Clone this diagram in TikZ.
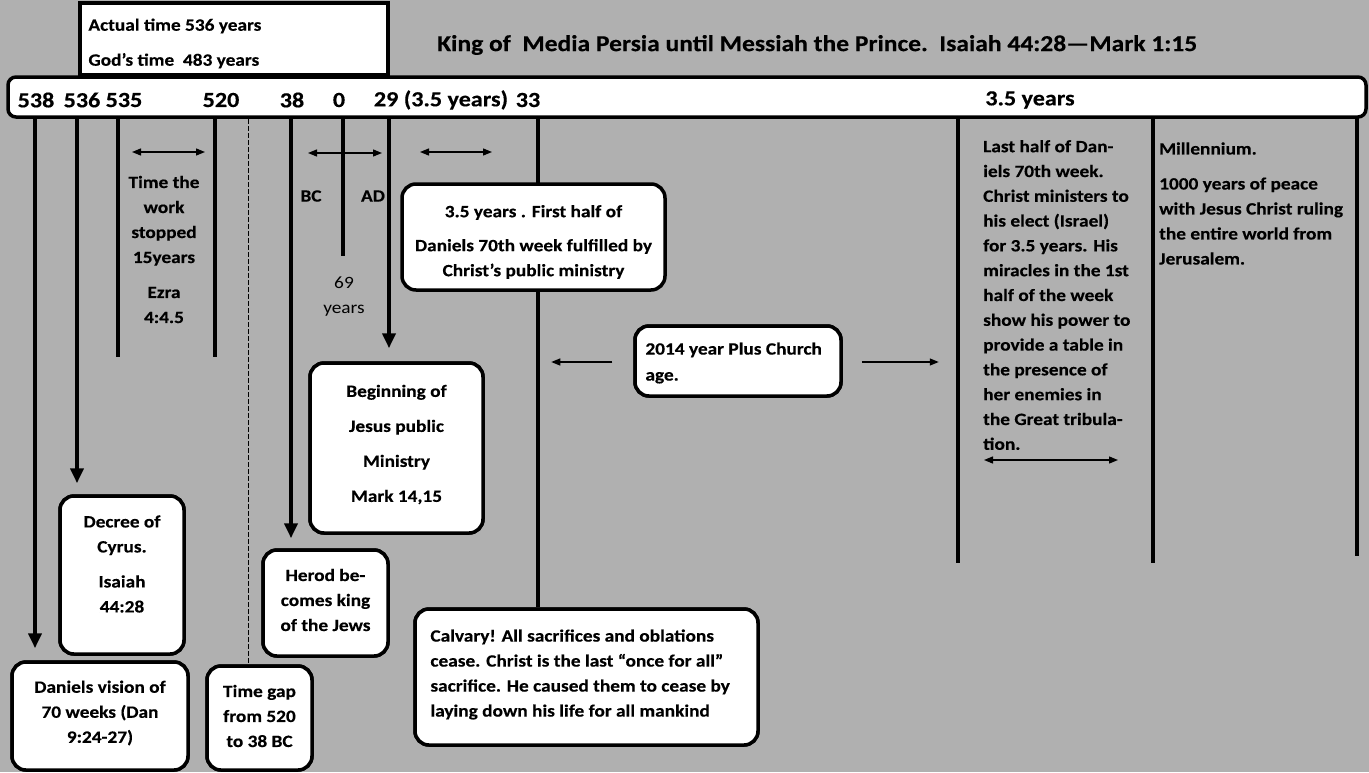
\documentclass[tikz,border=0pt]{standalone}
\usepackage{fontspec}
\setmainfont{Carlito}[FakeStretch=1.12, BoldFeatures={FakeBold=0.35}]
\usetikzlibrary{arrows.meta}
\definecolor{bg}{RGB}{176,176,176}
\begin{document}
\begin{tikzpicture}[x=1pt,y=-1pt,
  box/.style={draw=black, line width=3.5pt, fill=white, rounded corners=14pt, inner sep=0pt},
  tl/.style={line width=4pt},
  big/.style={tl, -{Triangle[width=13pt,length=15pt]}},
  dbl/.style={line width=1.3pt, {Triangle[width=7pt,length=9pt]}-{Triangle[width=7pt,length=9pt]}},
  sgl/.style={line width=1.3pt, -{Triangle[width=7pt,length=9pt]}},
  txt/.style={font=\bfseries\fontsize{17.25}{25}\selectfont, align=center, inner sep=0pt},
  ltxt/.style={font=\bfseries\fontsize{17.25}{25}\selectfont, align=left, inner sep=0pt},
  num/.style={font=\bfseries\fontsize{21.5}{24}\selectfont, inner sep=0pt},
]
\fill[bg] (0,0) rectangle (1369,772);
\useasboundingbox (0,0) rectangle (1369,772);

% title
\node[font=\bfseries\fontsize{22.8}{26}\selectfont, anchor=west, inner sep=0pt] (title) at (437,45)
  {King of\ \ Media Persia until Messiah the Prince.\ \ Isaiah 44:28---Mark 1:15};

% tick coordinates on the bar
\foreach \n/\x in {a/35,b/77,c/118,d/215,e/248,f/291,g/343,h/389,i/538,j/958,k/1153,l/1357}
  \coordinate (t\n) at (\x,117);

% box positions
\node[box, minimum width=176, minimum height=108] (daniel) at (100,716) {};
\node[box, minimum width=124, minimum height=158] (decree) at (122,575) {};
\node[box, minimum width=105, minimum height=104] (gap) at (259.5,718) {};
\node[box, minimum width=125, minimum height=106] (herod) at (325.5,603) {};
\node[box, minimum width=173, minimum height=170] (begin) at (396.5,448) {};
\node[box, minimum width=343, minimum height=136] (calvary) at (586.5,677) {};
\node[box, minimum width=206, minimum height=70] (church) at (738,361) {};

% vertical connectors
\draw[big] (ta) -- ([yshift=12pt]ta |- daniel.north);
\draw[big] (tb) -- ([yshift=11pt]tb |- decree.north);
\draw[tl] (tc) -- ++(0,240);
\draw[tl] (td) -- ++(0,240);
\draw[line width=0.9pt, dash pattern=on 5pt off 2pt] ([yshift=-2pt]te) -- (te |- gap.north);
\draw[big] (tf) -- ([yshift=10pt]tf |- herod.north);
\draw[tl] (tg) -- ++(0,139);
\draw[big] (th) -- ([yshift=13pt]th |- begin.north);
\draw[tl] (ti) -- (ti |- calvary.north);
\draw[tl] (tj) -- ++(0,446);
\draw[tl] (tk) -- ++(0,446);
\draw[tl] (tl) -- ++(0,439);

% boxes on top with text
\node[box, minimum width=176, minimum height=108] at (daniel) {};
\node[txt] at ([yshift=3pt]daniel.center) {Daniels vision of\\70 weeks (Dan\\9:24-27)};
\node[box, minimum width=124, minimum height=158] at (decree) {};
\node[txt] at ([yshift=11pt]decree.center) {Decree of\\Cyrus.\\[10pt]Isaiah\\44:28};
\node[box, minimum width=105, minimum height=104] at (gap) {};
\node[txt] at ([yshift=2pt]gap.center) {Time gap\\from 520\\to 38 BC};
\node[box, minimum width=125, minimum height=106] at (herod) {};
\node[txt] at ([yshift=3pt]herod.center) {Herod be-\\comes king\\of the Jews};
\node[box, minimum width=173, minimum height=170] at (begin) {};
\node[txt, font=\bfseries\fontsize{17.25}{35}\selectfont] at ([yshift=3.5pt]begin.center) {Beginning of\\Jesus public\\Ministry\\Mark 14,15};
\node[box, minimum width=343, minimum height=136] at (calvary) {};
\node[ltxt, anchor=west] at ([xshift=17pt,yshift=2.5pt]calvary.west) {Calvary! All sacrifices and oblations\\cease. Christ is the last \textquotedblleft once for all\textquotedblright\\sacrifice. He caused them to cease by\\laying down his life for all mankind};
\node[box, minimum width=206, minimum height=70] at (church) {};
\node[ltxt, font=\bfseries\fontsize{17.25}{26}\selectfont, anchor=west] at ([xshift=12pt,yshift=-2pt]church.west) {2014 year Plus Church\\age.};

\node[box, minimum width=263, minimum height=106] (first) at (533.5,237) {};
\node[txt] at ([yshift=-5pt]first.center) {3.5 years . First half of\\[9pt]Daniels 70th week fulfilled by\\Christ\textquoteright s public ministry};

% top box and bar
\node[draw=black, line width=3.5pt, fill=white, minimum width=308, minimum height=72, inner sep=0pt] (actual) at (234,39) {};
\node[ltxt, font=\bfseries\fontsize{17.25}{35}\selectfont, anchor=west] at ([xshift=10pt,yshift=-4.5pt]actual.west) {Actual time 536 years\\God\textquoteright s time\ \ 483 years};
\node[draw=black, line width=3.5pt, fill=white, rounded corners=8pt, minimum width=1358, minimum height=40, inner sep=0pt] (bar) at (687,97) {};

\foreach \t/\x in {538/36,536/82,535/124,520/221,38/292,0/339,33/528}
  \node[num] at (\x,100) {\t};
\node[num] at (441,100) {29 (3.5 years)};
\node[num] at (1030,100) {3.5 years};

% horizontal arrows
\draw[dbl] (132,152) -- (205,152);
\draw[dbl] (308,153) -- (382,153);
\draw[dbl] (420,152) -- (492,152);
\draw[dbl] (984,460) -- (1118,460);
\draw[sgl] (church.west) ++(-21pt,-1pt) coordinate (cl) -- ++(-61pt,0);
\draw[sgl] (church.east) ++(19pt,-1pt) coordinate (cr) -- ++(77pt,0);

% free texts
\node[txt] (stop) at (164,249.5) {Time the\\work\\stopped\\15years\\[10pt]Ezra\\4:4.5};
\node[txt] (bc) at (311,196) {BC};
\node[txt] (ad) at (373,196) {AD};
\node[txt, font=\fontsize{17.25}{25}\selectfont] (sixty) at (344,297) {69\\years};
\node[ltxt, font=\bfseries\fontsize{17.25}{24.8}\selectfont, anchor=west] (last) at (983,295)
  {Last half of Dan-\\iels 70th week.\\Christ ministers to\\his elect (Israel)\\for 3.5 years. His\\miracles in the 1st\\half of the week\\show his power to\\provide a table in\\the presence of\\her enemies in\\the Great tribula-\\tion.};
\node[ltxt, anchor=west] (mill) at (1159,203.5)
  {Millennium.\\[10pt]1000 years of peace\\with Jesus Christ ruling\\the entire world from\\Jerusalem.};
\end{tikzpicture}
\end{document}
